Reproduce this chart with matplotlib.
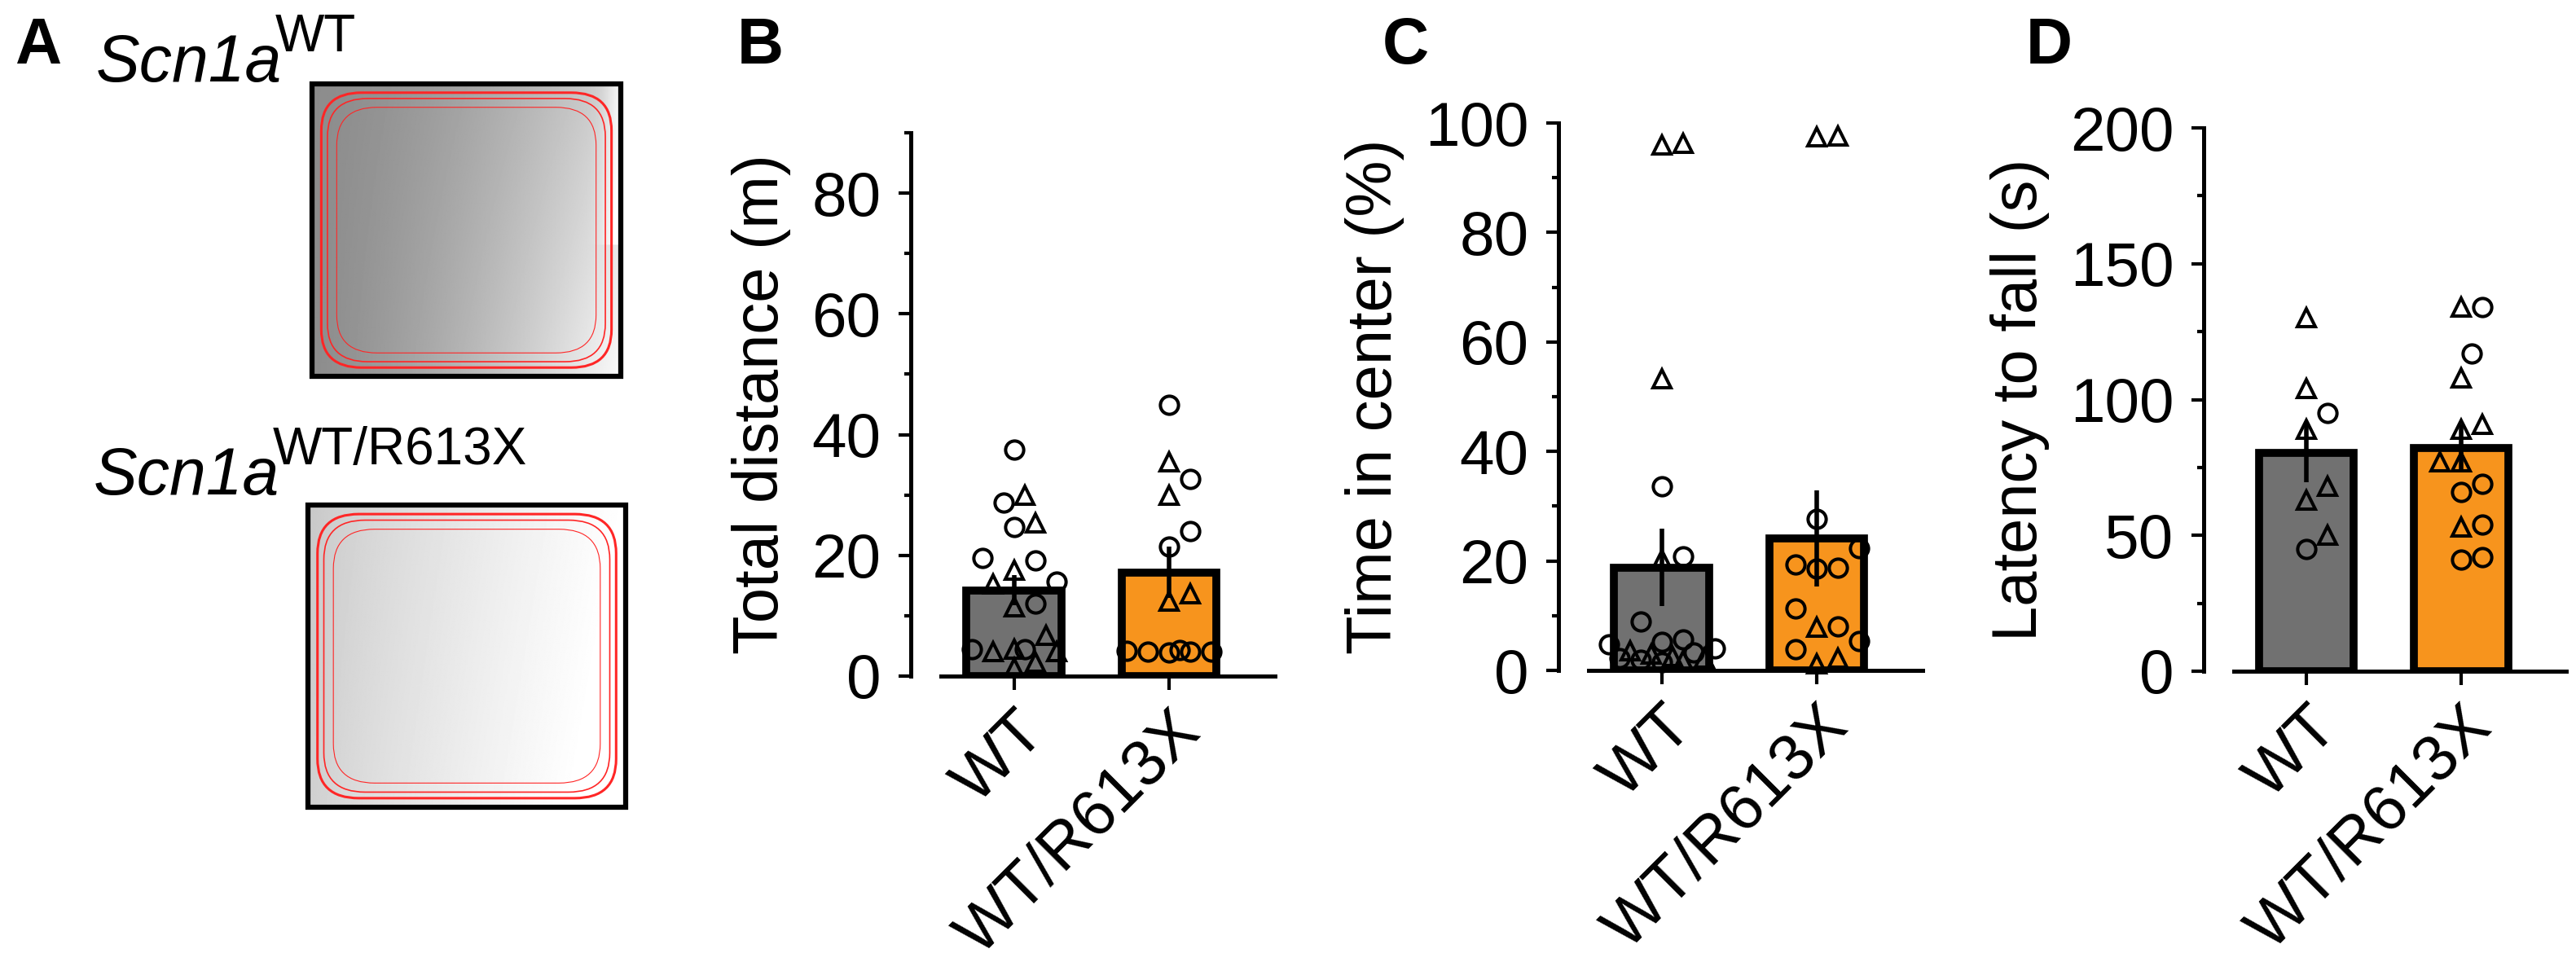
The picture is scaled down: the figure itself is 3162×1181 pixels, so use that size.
import numpy as np
import matplotlib.pyplot as plt
from matplotlib.patches import FancyBboxPatch, Rectangle
from matplotlib.ticker import MultipleLocator

plt.rcParams['font.family'] = ['Liberation Sans', 'DejaVu Sans']

# ---------------------------------------------------------------------------
# data
# ---------------------------------------------------------------------------
groups = ['WT', 'WT/R613X']

# B: total distance (m)
dist_wt_circ = [37.5, 28.7, 24.7, 19.5, 19.2, 15.6, 12.0, 4.5, 4.4]
dist_wt_tri = [30.0, 25.3, 17.6, 15.2, 11.5, 6.8, 4.1, 4.1, 4.5, 2.3, 1.4]
dist_mut_circ = [45.0, 32.6, 24.0, 21.5, 4.0, 4.2, 4.1, 3.9, 4.3, 4.0]
dist_mut_tri = [35.5, 29.9, 13.6, 12.4]
dist_mean = [14.2, 17.2]
dist_sem = [2.5, 4.3]

# C: time in center (%)
center_wt_circ = [33.6, 20.8, 8.9, 5.7, 4.8, 5.2, 4.0, 3.2, 2.3, 2.0, 1.5]
center_wt_tri = [96.0, 96.3, 53.2, 20.2, 3.0, 2.6, 3.6, 2.2, 1.8]
center_mut_circ = [27.7, 22.3, 18.8, 18.6, 19.3, 11.3, 8.1, 5.4, 3.9]
center_mut_tri = [97.4, 97.6, 7.9, 1.2, 2.2]
center_mean = [18.8, 24.1]
center_sem = [7.1, 8.8]

# D: latency to fall (s)
lat_wt_circ = [95, 45]
lat_wt_tri = [130, 104, 89, 68, 63, 50]
lat_mut_circ = [134, 117, 69, 66, 54, 42, 41]
lat_mut_tri = [134, 108, 91, 89, 77, 77, 53]
lat_mean = [80.5, 82.3]
lat_sem = [11.0, 8.5]

# ---------------------------------------------------------------------------
W, H = 3162, 1181
fig = plt.figure(figsize=(W / 100, H / 100), dpi=100)


def box(x0, y0, x1, y1):
    # pixel box (top-left origin) -> figure fraction
    return [x0 / W, 1 - y1 / H, (x1 - x0) / W, (y1 - y0) / H]


bar_colors = ['#717171', '#f7941d']
FS = 55


def swarm(ax, values, center, diam=26.0, maxw=66.0):
    # greedy beeswarm in pixel space, kept inside the bar width
    vals = np.asarray(values, float)
    x0, y0 = ax.transData.transform((0, 0))
    x1, y1 = ax.transData.transform((1, 1))
    sx, sy = x1 - x0, y1 - y0
    step = diam / 2
    kmax = int(maxw // step)
    cands = [0]
    for k in range(1, kmax + 1):
        cands += [k, -k]
    placed = []
    xs = np.zeros(len(vals))
    for i in np.argsort(vals):
        yp = vals[i] * sy
        best, best_d = 0.0, -1.0
        for k in cands:
            xp = k * step
            d = min([np.hypot(xp - a, (yp - b) / 1.3) for a, b in placed] or [1e9])
            if d >= diam:
                best = xp
                break
            if d > best_d + 1.0:
                best, best_d = xp, d
        placed.append((best, yp))
        xs[i] = center + best / sx
    return xs


def bar_panel(rect, means, sems, circles, triangles, ymax, major, minor, ylabel):
    ax = fig.add_axes(rect)
    ax.set_xlim(-0.47, 1.68)
    ax.set_ylim(0, ymax)
    ax.bar([0, 1], means, width=0.61, color=bar_colors, edgecolor='black',
           linewidth=7, zorder=1)
    for g in range(2):
        vals = list(circles[g]) + list(triangles[g])
        xs = swarm(ax, vals, g)
        nc = len(circles[g])
        ax.plot(xs[:nc], vals[:nc], 'o', ms=16, mfc='none', mec='black',
                mew=2.9, clip_on=False, zorder=3)
        ax.plot(xs[nc:], vals[nc:], '^', ms=16, mfc='none', mec='black',
                mew=2.9, clip_on=False, zorder=3)
    ax.errorbar([0, 1], means, yerr=sems, fmt='none', ecolor='black',
                elinewidth=4, capsize=0, zorder=4)
    for s in ['top', 'right']:
        ax.spines[s].set_visible(False)
    ax.spines['left'].set_position(('outward', 27))
    ax.spines['left'].set_linewidth(3.6)
    ax.spines['bottom'].set_linewidth(3.6)
    ax.yaxis.set_major_locator(MultipleLocator(major))
    ax.yaxis.set_minor_locator(MultipleLocator(minor))
    ax.tick_params(axis='y', which='major', length=11, width=3, pad=15,
                   labelsize=FS)
    ax.tick_params(axis='y', which='minor', length=6, width=3)
    ax.tick_params(axis='x', length=12, width=3, pad=10)
    ax.set_xticks([0, 1])
    ax.set_xticklabels(groups, rotation=45, ha='right', va='top',
                       rotation_mode='anchor', fontsize=57)
    ax.set_ylabel(ylabel, fontsize=56, labelpad=18)
    return ax


bar_panel(box(1155, 163, 1565, 830), dist_mean, dist_sem,
          [dist_wt_circ, dist_mut_circ], [dist_wt_tri, dist_mut_tri],
          90, 20, 10, 'Total distance (m)')
bar_panel(box(1950, 151, 2360, 823), center_mean, center_sem,
          [center_wt_circ, center_mut_circ], [center_wt_tri, center_mut_tri],
          100, 20, 10, 'Time in center (%)')
bar_panel(box(2742, 157, 3150, 824), lat_mean, lat_sem,
          [lat_wt_circ, lat_mut_circ], [lat_wt_tri, lat_mut_tri],
          200, 50, 25, 'Latency to fall (s)')

# ---------------------------------------------------------------------------
# panel A: open field arena snapshots
# ---------------------------------------------------------------------------
def arena(rect, bright):
    axp = fig.add_axes(rect)
    xx, yy = np.meshgrid(np.linspace(0, 1, 300), np.linspace(0, 1, 300))
    if bright:
        img = 0.78 + 0.22 * xx ** 0.8 + 0.03 * (1 - yy)
    else:
        img = 0.55 + 0.28 * xx ** 1.6 + 0.15 * xx * (1 - yy)
        img += 0.12 * np.exp(-((xx - 1) / 0.05) ** 2) * (yy > 0.45)
    axp.imshow(np.clip(img, 0, 1), cmap='gray', vmin=0, vmax=1,
               aspect='auto', extent=(0, 1, 0, 1), origin='lower')
    for inset, lw in [(0.03, 2.2), (0.05, 1.2), (0.08, 0.8)]:
        axp.add_patch(FancyBboxPatch((inset, inset), 1 - 2 * inset, 1 - 2 * inset,
                                     boxstyle='round,pad=0,rounding_size=0.13',
                                     fc='none', ec='#ff2626', lw=lw,
                                     transform=axp.transAxes))
    axp.add_patch(Rectangle((0, 0), 1, 1, transform=axp.transAxes, fill=False,
                            ec='black', lw=4.5, clip_on=False))
    axp.set_axis_off()


arena(box(383, 103, 762, 462), False)
arena(box(378, 620, 768, 991), True)

fig.text(118 / W, 1 - 100 / H, 'Scn1a', fontsize=58, style='italic', va='baseline')
fig.text(338 / W, 1 - 63 / H, 'WT', fontsize=46, va='baseline')
fig.text(115 / W, 1 - 607 / H, 'Scn1a', fontsize=58, style='italic', va='baseline')
fig.text(335 / W, 1 - 570 / H, 'WT/R613X', fontsize=46, va='baseline')

for letter, x in [('A', 18), ('B', 905), ('C', 1697), ('D', 2487)]:
    fig.text(x / W, 1 - 78 / H, letter, fontsize=57, weight='bold', va='baseline')

fig.savefig('out.png', dpi=100)
